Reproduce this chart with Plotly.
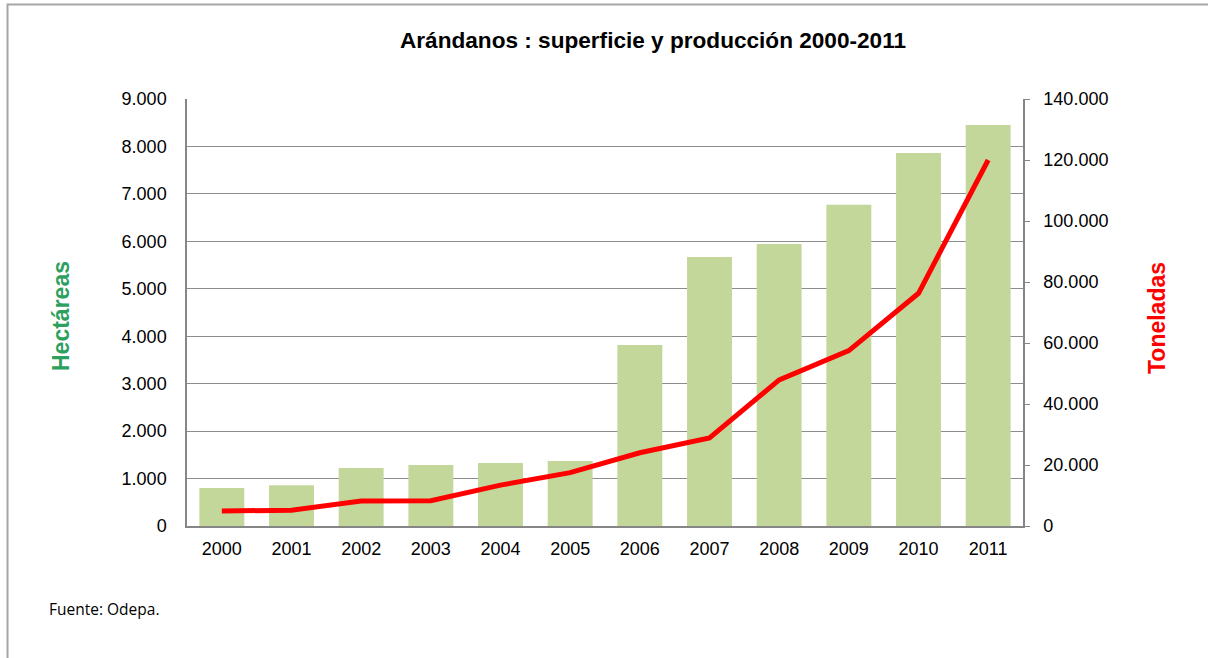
import plotly.graph_objects as go

years = ["2000", "2001", "2002", "2003", "2004", "2005", "2006", "2007", "2008", "2009", "2010", "2011"]
hectareas = [800, 860, 1220, 1285, 1330, 1370, 3815, 5670, 5945, 6770, 7860, 8450]
toneladas = [4900, 5200, 8200, 8300, 13400, 17500, 24000, 28900, 47900, 57500, 76300, 120000]
left_ticks = [0, 1000, 2000, 3000, 4000, 5000, 6000, 7000, 8000, 9000]
left_labels = ["0", "1.000", "2.000", "3.000", "4.000", "5.000", "6.000", "7.000", "8.000", "9.000"]
right_ticks = [0, 20000, 40000, 60000, 80000, 100000, 120000, 140000]
right_labels = ["0", "20.000", "40.000", "60.000", "80.000", "100.000", "120.000", "140.000"]

FONT = "Liberation Sans"
W, H = 1208, 658
L, R, T, B = 187, 185, 99, 132
pw = W - L - R
ph = H - T - B


def px(x):
    return (x - L) / pw


def py(y):
    return (H - B - y) / ph


fig = go.Figure()
fig.add_trace(go.Bar(x=years, y=hectareas, marker=dict(color="#C4D79B", line=dict(width=0)),
                     yaxis="y", showlegend=False))
fig.add_trace(go.Scatter(x=years, y=toneladas, mode="lines", line=dict(color="#FF0000", width=5),
                         yaxis="y2", showlegend=False))

fig.update_layout(
    width=W, height=H,
    margin=dict(l=L, r=R, t=T, b=B),
    paper_bgcolor="white", plot_bgcolor="white",
    bargap=0.355,
    font=dict(family=FONT, size=18, color="#000000"),
    xaxis=dict(showline=True, linecolor="#868686", linewidth=1.5, ticks="",
               tickfont=dict(size=18), showgrid=False, ticklabelstandoff=6),
    yaxis=dict(range=[0, 9000], tickvals=left_ticks, ticktext=left_labels,
               showgrid=True, gridcolor="#8C8C8C", gridwidth=1.3,
               showline=True, linecolor="#868686", linewidth=1.5,
               ticks="", ticklabelstandoff=15, tickfont=dict(size=18), zeroline=False),
    yaxis2=dict(range=[0, 140000], tickvals=right_ticks, ticktext=right_labels,
                overlaying="y", side="right", showgrid=False,
                showline=True, linecolor="#868686", linewidth=1.5,
                ticks="outside", ticklen=5, tickcolor="#868686", ticklabelstandoff=10,
                tickfont=dict(size=18), zeroline=False),
    annotations=[
        dict(text="<b>Arándanos : superficie y producción 2000-2011</b>", x=px(653), y=py(40),
             xref="paper", yref="paper", xanchor="center", yanchor="middle", showarrow=False,
             font=dict(size=22.6, family=FONT, color="#000000")),
        dict(text="<b>Hectáreas</b>", x=px(61), y=py(316), xref="paper", yref="paper",
             xanchor="center", yanchor="middle", textangle=-90, showarrow=False,
             font=dict(size=23, color="#2EA05E", family=FONT)),
        dict(text="<b>Toneladas</b>", x=px(1157), y=py(318), xref="paper", yref="paper",
             xanchor="center", yanchor="middle", textangle=-90, showarrow=False,
             font=dict(size=23, color="#FF0000", family=FONT)),
        dict(text="Fuente: Odepa.", x=px(47), y=py(609), xref="paper", yref="paper",
             xanchor="left", yanchor="middle", showarrow=False,
             font=dict(size=15.5, color="#000000", family="Open Sans")),
    ],
    shapes=[
        dict(type="path", xref="paper", yref="paper",
             path="M {a} {b} L {a} {c} L {d} {c}".format(a=px(7.5), b=py(H + 5), c=py(4.5), d=px(W)),
             line=dict(color="#A6A6A6", width=2)),
    ],
)

fig.write_html("out.html", config={"displayModeBar": False},
               post_script="document.body.style.margin='0';document.body.style.overflow='hidden';")
